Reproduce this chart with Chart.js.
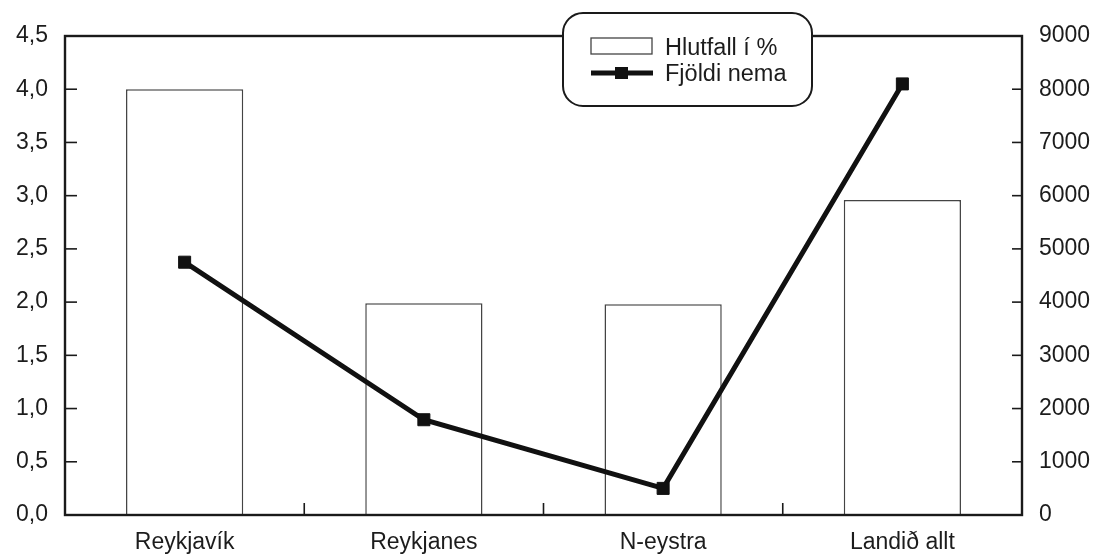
<!DOCTYPE html>
<html>
<head>
<meta charset="utf-8">
<script src="https://cdn.jsdelivr.net/npm/chart.js@4"></script>
<style>
  html, body { margin: 0; padding: 0; background: #fff; }
  #wrap { width: 1095px; height: 556px; position: relative; }
</style>
</head>
<body>
<div id="wrap"><canvas id="c" width="1095" height="556"></canvas></div>
<script>
const categories = ["Reykjavík", "Reykjanes", "N-eystra", "Landið allt"];
const hlutfall = [4.0, 1.99, 1.98, 2.96];
const fjoldi = [4750, 1790, 500, 8100];
const leftTicks = [0, 0.5, 1, 1.5, 2, 2.5, 3, 3.5, 4, 4.5];
const rightTicks = [0, 1000, 2000, 3000, 4000, 5000, 6000, 7000, 8000, 9000];
const legendLabels = ["Hlutfall í %", "Fjöldi nema"];

const FONT = '"Liberation Sans", Arial, Helvetica, sans-serif';
const INK = '#1a1a1a';
const TXT = '#1c1c1c';

function roundRect(ctx, x, y, w, h, r) {
  ctx.beginPath();
  ctx.moveTo(x + r, y);
  ctx.lineTo(x + w - r, y);
  ctx.arcTo(x + w, y, x + w, y + r, r);
  ctx.lineTo(x + w, y + h - r);
  ctx.arcTo(x + w, y + h, x + w - r, y + h, r);
  ctx.lineTo(x + r, y + h);
  ctx.arcTo(x, y + h, x, y + h - r, r);
  ctx.lineTo(x, y + r);
  ctx.arcTo(x, y, x + r, y, r);
  ctx.closePath();
}

const framePlugin = {
  id: 'frame',
  beforeDatasetsDraw(chart) {
    const ctx = chart.ctx, a = chart.chartArea;
    const x = chart.scales.x, y = chart.scales.y, y1 = chart.scales.y1;
    ctx.save();
    ctx.strokeStyle = INK;
    ctx.lineWidth = 1.6;
    leftTicks.forEach(v => {
      if (v === 0 || v === 4.5) return;
      const py = y.getPixelForValue(v);
      ctx.beginPath(); ctx.moveTo(a.left, py); ctx.lineTo(a.left + 12, py); ctx.stroke();
    });
    rightTicks.forEach(v => {
      if (v === 0 || v === 9000) return;
      const py = y1.getPixelForValue(v);
      ctx.beginPath(); ctx.moveTo(a.right, py); ctx.lineTo(a.right - 10, py); ctx.stroke();
    });
    for (let i = 0; i < categories.length - 1; i++) {
      const px = (x.getPixelForValue(i) + x.getPixelForValue(i + 1)) / 2;
      ctx.beginPath(); ctx.moveTo(px, a.bottom); ctx.lineTo(px, a.bottom - 12); ctx.stroke();
    }
    ctx.restore();
  },
  afterDatasetsDraw(chart) {
    const ctx = chart.ctx, a = chart.chartArea;
    ctx.save();
    ctx.strokeStyle = INK;
    ctx.lineWidth = 2.4;
    ctx.strokeRect(a.left, a.top, a.right - a.left, a.bottom - a.top);
    ctx.restore();
  },
  afterDraw(chart) {
    const ctx = chart.ctx;
    ctx.save();
    roundRect(ctx, 563, 13, 249, 93, 20);
    ctx.fillStyle = '#fff';
    ctx.fill();
    ctx.strokeStyle = INK;
    ctx.lineWidth = 2;
    ctx.stroke();
    ctx.strokeStyle = '#444';
    ctx.lineWidth = 1.3;
    ctx.strokeRect(591, 38, 61, 16);
    ctx.strokeStyle = '#111';
    ctx.lineWidth = 5;
    ctx.beginPath(); ctx.moveTo(591, 73); ctx.lineTo(653, 73); ctx.stroke();
    ctx.fillStyle = '#111';
    ctx.fillRect(615, 67, 13, 12);
    ctx.fillStyle = TXT;
    ctx.font = '23.5px ' + FONT;
    ctx.textBaseline = 'alphabetic';
    ctx.textAlign = 'left';
    ctx.fillText(legendLabels[0], 665, 55);
    ctx.fillText(legendLabels[1], 665, 81);
    ctx.restore();
  }
};

new Chart(document.getElementById('c'), {
  type: 'bar',
  data: {
    labels: categories,
    datasets: [
      {
        type: 'line',
        label: legendLabels[1],
        data: fjoldi,
        yAxisID: 'y1',
        borderColor: '#111',
        borderWidth: 5,
        pointStyle: 'rect',
        pointRadius: 8.5,
        pointBackgroundColor: '#111',
        pointBorderColor: '#111',
        pointBorderWidth: 1,
        tension: 0,
        order: 0
      },
      {
        type: 'bar',
        label: legendLabels[0],
        data: hlutfall,
        yAxisID: 'y',
        backgroundColor: '#fff',
        borderColor: '#444',
        borderWidth: 1.5,
        barPercentage: 0.49,
        categoryPercentage: 1.0,
        order: 1
      }
    ]
  },
  options: {
    responsive: false,
    animation: false,
    devicePixelRatio: 1,
    layout: { padding: { top: 36, left: 0, right: 0, bottom: 0 } },
    plugins: { legend: { display: false }, tooltip: { enabled: false } },
    scales: {
      x: {
        grid: { display: false, drawTicks: false },
        border: { display: false },
        ticks: { color: TXT, font: { family: FONT, size: 23 }, padding: 14, maxRotation: 0 },
        afterFit(s) { s.height = 41; }
      },
      y: {
        position: 'left',
        min: 0, max: 4.5,
        afterBuildTicks(s) { s.ticks = leftTicks.map(v => ({ value: v })); },
        grid: { display: false, drawTicks: false },
        border: { display: false },
        ticks: {
          color: TXT, font: { family: FONT, size: 23 }, padding: 17,
          callback: v => v.toFixed(1).replace('.', ',')
        },
        afterFit(s) { s.width = 65; }
      },
      y1: {
        position: 'right',
        min: 0, max: 9000,
        afterBuildTicks(s) { s.ticks = rightTicks.map(v => ({ value: v })); },
        grid: { display: false, drawTicks: false },
        border: { display: false },
        ticks: {
          color: TXT, font: { family: FONT, size: 23 }, padding: 17,
          callback: v => String(v)
        },
        afterFit(s) { s.width = 73; }
      }
    }
  },
  plugins: [framePlugin]
});
</script>
</body>
</html>
